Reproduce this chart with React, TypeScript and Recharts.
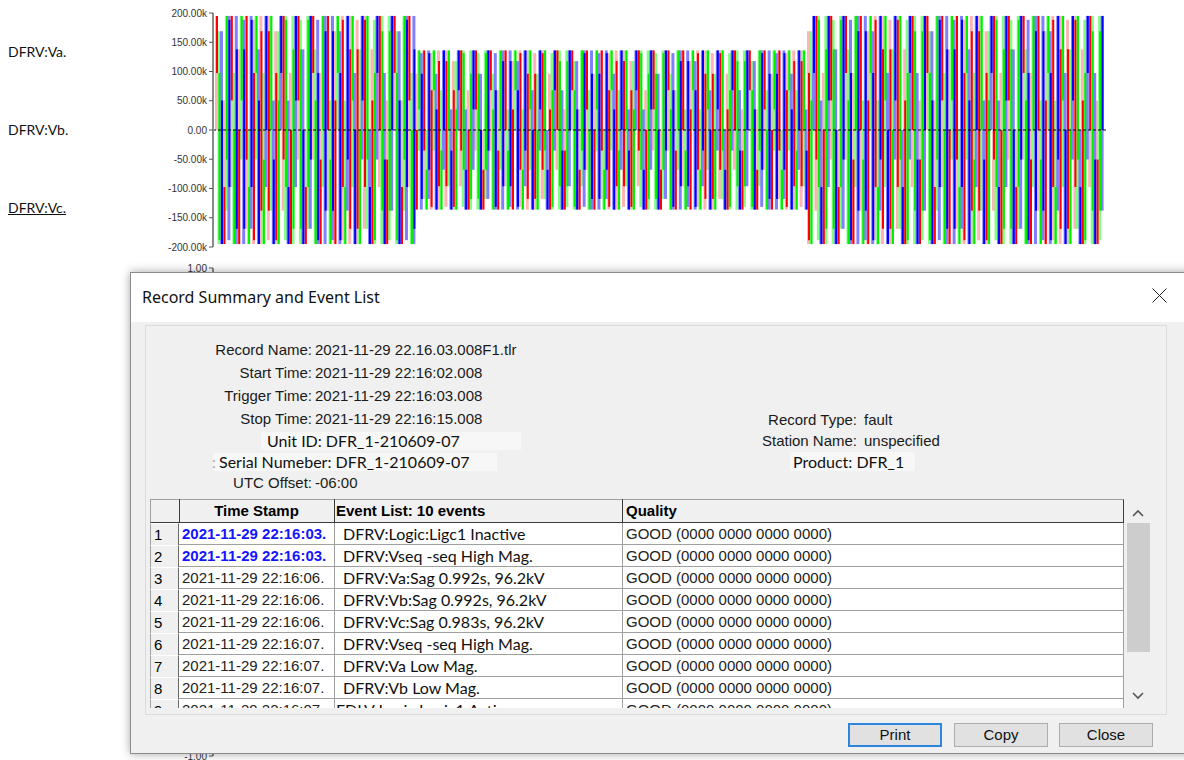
import { BarChart, Bar, XAxis, YAxis, ReferenceLine, LineChart, Line } from 'recharts'

// one cycle of the phase voltage, per-unit, 15° per sample
const cycleShape = [
  0, 0.259, 0.5, 0.707, 0.866, 0.966, 1, 0.966, 0.866, 0.707, 0.5, 0.259,
  0, -0.259, -0.5, -0.707, -0.866, -0.966, -1, -0.966, -0.866, -0.707, -0.5, -0.259,
]
const phaseNames = ['Va', 'Vb', 'Vc']
const phaseColors = ['#ff0000', '#00ee00', '#0000ff']
const phaseTints = ['#ffb4b4', '#80ff80', '#8080ff']
const phaseShift = [0, 16, 8] // samples: Vb lags 120°, Vc leads 120°

// record: 13 s, drawn as 120 min/max columns per phase
const recordSeconds = 13
const columnCount = 120
const columnAdvance = 11 // samples moved per column
const envelopeSpan = 13 // samples merged into the faint column
const coreSpan = 8 // samples merged into the solid column

// pre-fault, sag, recovery
const stateSeconds = [2.9, 5.75, 4.35]
const statePeaks = [195000, 136000, 195000]

const voltTicks = [200000, 150000, 100000, 50000, 0, -50000, -100000, -150000, -200000]
const logicTicks = [1, -1]
// Ligc1 digital channel (seconds, level)
const logicTimes = [0, 13]
const logicLevels = [0, 0]

const channelLabels = ['DFRV:Va.', 'DFRV:Vb.', 'DFRV:Vc.']

const summaryLeft = [
  ['Record Name:', '2021-11-29 22.16.03.008F1.tlr'],
  ['Start Time:', '2021-11-29 22:16:02.008'],
  ['Trigger Time:', '2021-11-29 22:16:03.008'],
  ['Stop Time:', '2021-11-29 22:16:15.008'],
]
const summaryRight = [
  ['Record Type:', 'fault'],
  ['Station Name:', 'unspecified'],
]

const eventTimes = [
  '2021-11-29 22:16:03.', '2021-11-29 22:16:03.', '2021-11-29 22:16:06.',
  '2021-11-29 22:16:06.', '2021-11-29 22:16:06.', '2021-11-29 22:16:07.',
  '2021-11-29 22:16:07.', '2021-11-29 22:16:07.', '2021-11-29 22:16:07.',
]
const eventTexts = [
  'DFRV:Logic:Ligc1 Inactive', 'DFRV:Vseq -seq High Mag.', 'DFRV:Va:Sag 0.992s, 96.2kV',
  'DFRV:Vb:Sag 0.992s, 96.2kV', 'DFRV:Vc:Sag 0.983s, 96.2kV', 'DFRV:Vseq -seq High Mag.',
  'DFRV:Va Low Mag.', 'DFRV:Vb Low Mag.', 'FDLV:Logic:Logic1 Active',
]
const eventTriggered = [true, true, false, false, false, false, false, false, false]
const eventQuality = 'GOOD (0000 0000 0000 0000)'

const peakAt = (t: number) => {
  let end = 0
  for (let s = 0; s < stateSeconds.length; s++) {
    end += stateSeconds[s]
    if (t < end) return statePeaks[s]
  }
  return statePeaks[statePeaks.length - 1]
}

const spanRange = (start: number, len: number, peak: number) => {
  const vals = Array.from({ length: len }, (_, k) => cycleShape[(start + k) % cycleShape.length] * peak)
  return [Math.min(...vals), Math.max(...vals)]
}

const columns = Array.from({ length: columnCount }, (_, i) => {
  const t = ((i + 0.5) * recordSeconds) / columnCount
  const peak = peakAt(t)
  const row: Record<string, any> = { t }
  phaseNames.forEach((name, p) => {
    const start = i * columnAdvance + phaseShift[p]
    row[`${name}Env`] = spanRange(start, envelopeSpan, peak)
    row[name] = spanRange(start + 3, coreSpan, peak)
  })
  return row
})

const logicData = logicTimes.map((t, i) => ({ t, level: logicLevels[i] }))

const arial = '"Liberation Sans", Arial, sans-serif'
const calibri = 'Lato, "Noto Sans", sans-serif'
const segoe = '"Noto Sans", sans-serif'

const fmtVolt = (v: number) => (v === 0 ? '0.00' : `${(v / 1000).toFixed(2)}k`)

const Txt = ({ x, y, right, font = arial, size = 15, style, children }: any) => (
  <div
    style={{
      position: 'absolute',
      top: y - 10,
      height: 20,
      lineHeight: '20px',
      whiteSpace: 'nowrap',
      fontFamily: font,
      fontSize: size,
      color: '#1a1a1a',
      ...(right ? { right: 1184 - x, textAlign: 'right' } : { left: x }),
      ...style,
    }}
  >
    {children}
  </div>
)

const Box = ({ x, y, w, h, style }: any) => (
  <div style={{ position: 'absolute', left: x, top: y, width: w, height: h, boxSizing: 'border-box', ...style }} />
)

const tableTop = 499
const headH = 24
const rowH = 22

const EventTable = () => (
  <div style={{ position: 'absolute', left: 150, top: tableTop, width: 975, height: 209, overflow: 'hidden', background: '#f0f0f0' }}>
    <Box x={0} y={0} w={974} h={headH} style={{ background: '#f0f0f0', borderTop: '1px solid #a0a0a0', borderLeft: '1px solid #a0a0a0', borderBottom: '1px solid #3c3c3c', borderRight: '1px solid #3c3c3c' }} />
    {[29, 184, 472].map((x) => (
      <Box key={x} x={x} y={0} w={1} h={headH} style={{ background: '#3c3c3c' }} />
    ))}
    <div style={{ position: 'absolute', left: 29, width: 155, top: 0, height: headH, lineHeight: `${headH}px`, textAlign: 'center', fontFamily: arial, fontSize: 15, fontWeight: 'bold' }}>Time Stamp</div>
    <div style={{ position: 'absolute', left: 186, top: 0, height: headH, lineHeight: `${headH}px`, fontFamily: arial, fontSize: 15, fontWeight: 'bold' }}>Event List: 10 events</div>
    <div style={{ position: 'absolute', left: 476, top: 0, height: headH, lineHeight: `${headH}px`, fontFamily: arial, fontSize: 15, fontWeight: 'bold' }}>Quality</div>

    {eventTimes.map((ts, k) => {
      const top = headH + k * rowH
      const cell = { position: 'absolute' as const, top: 0, height: rowH, lineHeight: `${rowH}px`, whiteSpace: 'nowrap' as const }
      return (
        <div key={k} style={{ position: 'absolute', left: 0, top, width: 974, height: rowH, background: '#fff', borderBottom: '1px solid #a0a0a0', boxSizing: 'border-box' }}>
          <div style={{ ...cell, left: 0, width: 29, background: '#f0f0f0', borderLeft: '1px solid #a0a0a0', borderRight: '1px solid #6a6a6a', borderTop: '1px solid #fff', boxSizing: 'border-box', fontFamily: arial, fontSize: 15, paddingLeft: 3 }}>{k + 1}</div>
          <div style={{ ...cell, left: 184, width: 1, background: '#a0a0a0' }} />
          <div style={{ ...cell, left: 472, width: 1, background: '#a0a0a0' }} />
          <div style={{ ...cell, left: 973, width: 1, background: '#a0a0a0' }} />
          <div style={{ ...cell, left: 32, fontFamily: arial, fontSize: 15, fontWeight: eventTriggered[k] ? 'bold' : 'normal', color: eventTriggered[k] ? '#1414ff' : '#222' }}>{ts}</div>
          <div style={{ ...cell, left: k === 8 ? 186 : 193, fontFamily: calibri, fontSize: 16, color: '#111' }}>{eventTexts[k]}</div>
          <div style={{ ...cell, left: 476, fontFamily: arial, fontSize: 15, color: '#222' }}>{eventQuality}</div>
        </div>
      )
    })}
  </div>
)

const Chevron = ({ x, y, up }: any) => (
  <svg style={{ position: 'absolute', left: x - 6, top: y - 4 }} width={12} height={8}>
    <polyline points={up ? '1,7 6,2 11,7' : '1,1 6,6 11,1'} fill="none" stroke="#555" strokeWidth={1.6} />
  </svg>
)

const Button = ({ x, label, primary }: any) => (
  <div
    style={{
      position: 'absolute', left: x, top: 723, width: 94, height: 24, boxSizing: 'border-box',
      background: '#e1e1e1', border: primary ? '2px solid #2e86dc' : '1px solid #adadad',
      textAlign: 'center', lineHeight: primary ? '20px' : '22px', fontFamily: arial, fontSize: 15, color: '#111',
    }}
  >
    {label}
  </div>
)

const phaseStep = 2.5

export default function App() {
  return (
    <div style={{ position: 'fixed', left: 0, top: 0, width: 1184, height: 760, overflow: 'hidden', background: '#fff' }}>
      {channelLabels.map((name, i) => (
        <Txt key={name} x={8} y={52 + i * 78} font={calibri} size={14} style={{ color: '#111', textDecoration: i === 2 ? 'underline' : 'none' }}>
          {name}
        </Txt>
      ))}

      <div style={{ position: 'absolute', left: 0, top: 0 }}>
        <BarChart width={1184} height={256} data={columns} margin={{ top: 13, right: 78, bottom: 9, left: 0 }} barCategoryGap={0} barGap={0}>
          {phaseNames.flatMap((name, p) => [
            <XAxis key={`${name}Env`} xAxisId={`${name}Env`} dataKey="t" hide padding={{ left: p * phaseStep, right: (2 - p) * phaseStep }} />,
            <XAxis key={name} xAxisId={name} dataKey="t" hide padding={{ left: p * phaseStep, right: (2 - p) * phaseStep }} />,
          ])}
          <YAxis
            width={213}
            domain={[-200000, 200000]}
            ticks={voltTicks}
            tickFormatter={fmtVolt}
            tick={{ fontFamily: arial, fontSize: 10, fill: '#333' }}
            tickSize={4}
            tickMargin={2}
            axisLine={{ stroke: '#8a8a8a', strokeWidth: 2 }}
            tickLine={{ stroke: '#555' }}
            interval={0}
          />
          {phaseNames.map((name, p) => (
            <Bar key={`${name}Env`} xAxisId={`${name}Env`} dataKey={`${name}Env`} fill={phaseTints[p]} barSize={3} isAnimationActive={false} />
          ))}
          {phaseNames.map((name, p) => (
            <Bar key={name} xAxisId={name} dataKey={name} fill={phaseColors[p]} barSize={2} isAnimationActive={false} />
          ))}
          <ReferenceLine y={0} xAxisId="Va" stroke="#000" strokeDasharray="3 2" />
        </BarChart>
      </div>

      <div style={{ position: 'absolute', left: 0, top: 262 }}>
        <LineChart width={1184} height={498} data={logicData} margin={{ top: 6, right: 78, bottom: 4, left: 0 }}>
          <XAxis dataKey="t" type="number" domain={[0, recordSeconds]} hide />
          <YAxis
            width={213}
            domain={[-1, 1]}
            ticks={logicTicks}
            tickFormatter={(v: number) => v.toFixed(2)}
            tick={{ fontFamily: arial, fontSize: 10, fill: '#333' }}
            tickSize={4}
            tickMargin={2}
            axisLine={{ stroke: '#8a8a8a', strokeWidth: 2 }}
            tickLine={{ stroke: '#555' }}
            interval={0}
          />
          <Line dataKey="level" stroke="#0000ff" dot={false} isAnimationActive={false} />
        </LineChart>
      </div>

      {/* Record summary dialog */}
      <Box x={130} y={272} w={1070} h={482} style={{ background: '#f0f0f0', border: '1px solid #8c8c8c', boxShadow: '0 0 9px rgba(0,0,0,0.35)' }} />
      <Box x={131} y={273} w={1060} h={49} style={{ background: '#fff' }} />
      <Txt x={142} y={297} font={segoe} size={16} style={{ color: '#111' }}>Record Summary and Event List</Txt>
      <svg style={{ position: 'absolute', left: 1152, top: 288 }} width={15} height={15}>
        <line x1={0.5} y1={0.5} x2={14.5} y2={14.5} stroke="#222" />
        <line x1={14.5} y1={0.5} x2={0.5} y2={14.5} stroke="#222" />
      </svg>

      <Box x={145} y={325} w={1022} h={390} style={{ border: '1px solid #dcdcdc' }} />

      {summaryLeft.map(([label, value], i) => (
        <div key={label}>
          <Txt x={312} y={350 + i * 23} right>{label}</Txt>
          <Txt x={315} y={350 + i * 23}>{value}</Txt>
        </div>
      ))}
      <Box x={261} y={432} w={260} h={18} style={{ background: '#f7f7f7' }} />
      <Txt x={267} y={441} font={calibri} size={16} style={{ color: '#111' }}>Unit ID: DFR_1-210609-07</Txt>
      <Box x={213} y={453} w={284} h={18} style={{ background: '#f7f7f7' }} />
      <Txt x={212} y={462} font={calibri} size={15} style={{ color: '#aaa' }}>:</Txt>
      <Txt x={219} y={462} font={calibri} size={16} style={{ color: '#111' }}>Serial Numeber: DFR_1-210609-07</Txt>
      <Txt x={312} y={483} right>UTC Offset:</Txt>
      <Txt x={315} y={483}>-06:00</Txt>

      {summaryRight.map(([label, value], i) => (
        <div key={label}>
          <Txt x={857} y={420 + i * 21} right>{label}</Txt>
          <Txt x={864} y={420 + i * 21}>{value}</Txt>
        </div>
      ))}
      <Box x={790} y={452} w={125} h={19} style={{ background: '#f7f7f7' }} />
      <Txt x={793} y={462} font={calibri} size={16} style={{ color: '#111' }}>Product: DFR_1</Txt>

      <EventTable />

      {/* scroll bar */}
      <Chevron x={1138} y={513} up />
      <Box x={1127} y={523} w={23} h={129} style={{ background: '#cdcdcd' }} />
      <Chevron x={1138} y={696} />

      <Button x={848} label="Print" primary />
      <Button x={954} label="Copy" />
      <Button x={1059} label="Close" />
    </div>
  )
}
